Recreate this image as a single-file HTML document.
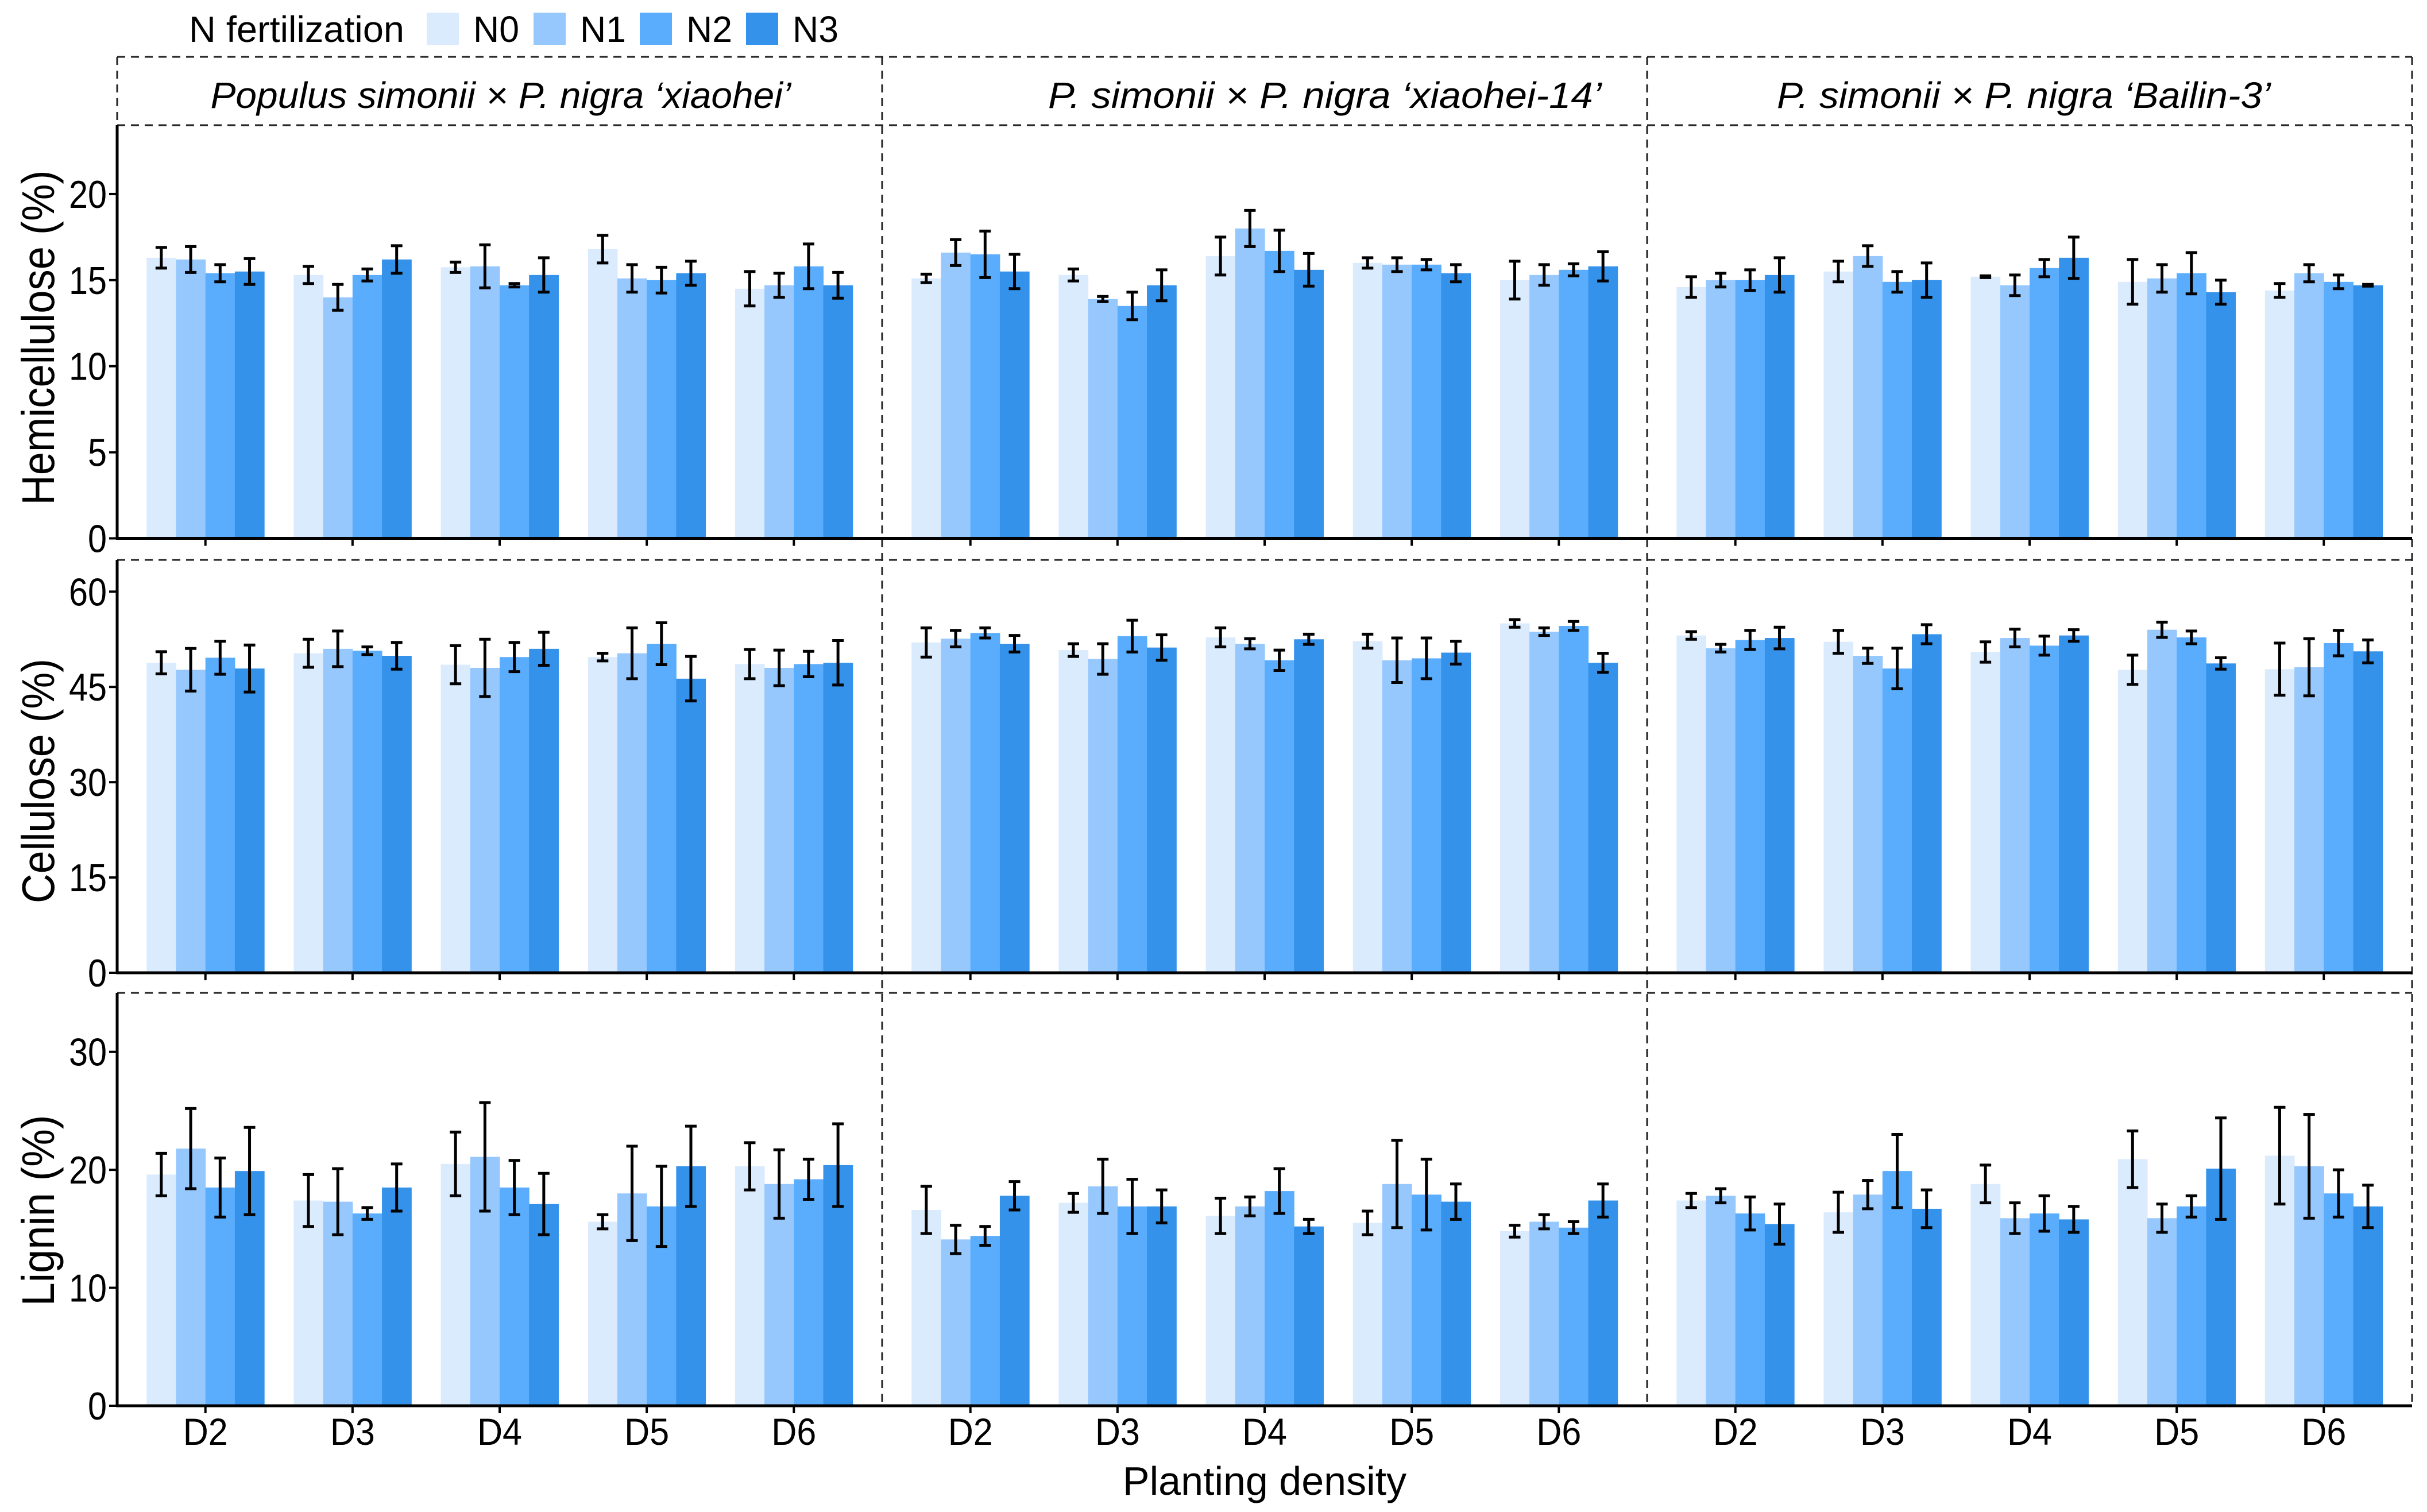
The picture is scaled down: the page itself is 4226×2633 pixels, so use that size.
<!DOCTYPE html>
<html><head><meta charset="utf-8"><style>
html,body{margin:0;padding:0;background:#fff}
svg{display:block}
text{font-family:"Liberation Sans",sans-serif;fill:#000}
</style></head><body>
<svg id="chart" xmlns="http://www.w3.org/2000/svg" width="4226" height="2633" viewBox="0 0 4226 2633"></svg>
<script>
const categories = ["D2","D3","D4","D5","D6"];
const series = ["N0","N1","N2","N3"];
const clones = ["Populus simonii \u00d7 P. nigra \u2018xiaohei\u2019","P. simonii \u00d7 P. nigra \u2018xiaohei-14\u2019","P. simonii \u00d7 P. nigra \u2018Bailin-3\u2019"];
const traits = ["Hemicellulose (%)","Cellulose (%)","Lignin  (%)"];
const yMax = [24, 65, 35];
const yTicks = [[0,5,10,15,20],[0,15,30,45,60],[0,10,20,30]];
const hemiMean = [
 [[16.3,16.2,15.4,15.5],[15.3,14.0,15.3,16.2],[15.75,15.8,14.7,15.3],[16.8,15.1,15.0,15.4],[14.5,14.7,15.8,14.7]],
 [[15.1,16.6,16.5,15.5],[15.3,13.9,13.5,14.7],[16.4,18.0,16.7,15.6],[16.0,15.9,15.9,15.4],[15.0,15.3,15.6,15.8]],
 [[14.6,15.0,15.0,15.3],[15.5,16.4,14.9,15.0],[15.2,14.7,15.7,16.3],[14.9,15.1,15.4,14.3],[14.4,15.4,14.9,14.7]]];
const hemiErr = [
 [[0.6,0.75,0.5,0.75],[0.5,0.75,0.35,0.8],[0.3,1.25,0.1,1.0],[0.8,0.8,0.75,0.7],[1.0,0.7,1.3,0.75]],
 [[0.25,0.75,1.35,1.0],[0.35,0.15,0.8,0.9],[1.1,1.05,1.2,0.95],[0.3,0.4,0.3,0.5],[1.1,0.6,0.35,0.85]],
 [[0.6,0.4,0.6,1.0],[0.6,0.6,0.6,1.0],[0.05,0.6,0.5,1.2],[1.3,0.8,1.2,0.7],[0.4,0.5,0.4,0.05]]];
const celMean = [
 [[48.8,47.7,49.6,47.9],[50.3,51.0,50.7,49.9],[48.5,48.0,49.7,51.0],[49.7,50.3,51.8,46.3],[48.6,48.0,48.6,48.8]],
 [[52.0,52.6,53.5,51.8],[50.8,49.4,53.0,51.2],[52.8,51.8,49.2,52.5],[52.2,49.2,49.5,50.4],[55.0,53.7,54.6,48.8]],
 [[53.1,51.1,52.4,52.7],[52.1,49.9,47.9,53.3],[50.5,52.7,51.5,53.1],[47.7,54.0,52.8,48.7],[47.8,48.1,51.9,50.6]]];
const celErr = [
 [[1.75,3.35,2.6,3.7],[2.2,2.8,0.6,2.1],[3.0,4.5,2.3,2.6],[0.6,4.0,3.3,3.5],[2.3,2.8,2.0,3.5]],
 [[2.3,1.3,0.8,1.3],[1.0,2.4,2.5,2.0],[1.5,0.8,1.6,0.8],[1.1,3.5,3.2,1.8],[0.6,0.6,0.7,1.5]],
 [[0.6,0.6,1.5,1.7],[1.8,1.2,3.2,1.5],[1.6,1.4,1.5,0.9],[2.3,1.2,1.0,0.9],[4.1,4.5,2.0,1.8]]];
const ligMean = [
 [[19.6,21.8,18.5,19.9],[17.4,17.3,16.3,18.5],[20.5,21.1,18.5,17.1],[15.6,18.0,16.9,20.3],[20.3,18.8,19.2,20.4]],
 [[16.6,14.1,14.4,17.8],[17.2,18.6,16.9,16.9],[16.1,16.9,18.2,15.2],[15.5,18.8,17.9,17.3],[14.8,15.6,15.1,17.4]],
 [[17.4,17.8,16.3,15.4],[16.4,17.9,19.9,16.7],[18.8,15.9,16.3,15.8],[20.9,15.9,16.9,20.1],[21.2,20.3,18.0,16.9]]];
const ligErr = [
 [[1.8,3.4,2.5,3.7],[2.2,2.8,0.5,2.0],[2.7,4.6,2.3,2.6],[0.6,4.0,3.4,3.4],[2.0,2.9,1.7,3.5]],
 [[2.0,1.2,0.8,1.2],[0.8,2.3,2.3,1.4],[1.5,0.8,1.9,0.6],[1.0,3.7,3.0,1.5],[0.5,0.6,0.5,1.4]],
 [[0.6,0.6,1.4,1.7],[1.7,1.2,3.1,1.6],[1.6,1.3,1.5,1.1],[2.4,1.2,0.9,4.3],[4.1,4.4,2.0,1.8]]];
const means = [hemiMean, celMean, ligMean];
const errs = [hemiErr, celErr, ligErr];
const colors = ["#DAEBFE","#96C8FE","#5AADFD","#3492EB"];

const NS = "http://www.w3.org/2000/svg";
const svg = document.getElementById("chart");
function mk(tag, attrs, parent, txt){
  const e = document.createElementNS(NS, tag);
  for (const k in attrs) e.setAttribute(k, attrs[k]);
  if (txt !== undefined) e.textContent = txt;
  (parent||svg).appendChild(e); return e;
}
const PX = [204,1536,2868], PW = 1332;
const rowTop = [218,975,1729], rowZero = [937.5,1694,2448];
const step = PW/(categories.length - 1 + 1.2);
function xCenter(p, i){ return PX[p] + step*(0.6 + i); }
function yScale(r, v){ return rowZero[r] - v/yMax[r]*(rowZero[r]-rowTop[r]); }
const bw = step*0.8/4;

const lt = mk("text",{x:329,y:73,"font-size":64,textLength:375,lengthAdjust:"spacingAndGlyphs"},svg,"N fertilization");


const lx = [743,929,1114,1299];
series.forEach((s,k)=>{
  const g = mk("g",{});
  
  
  mk("rect",{x:lx[k],y:22,width:56,height:56,fill:colors[k]},g);
  mk("text",{x:lx[k]+81,y:73,"font-size":64,textLength:80,lengthAdjust:"spacingAndGlyphs"},g,s);
});

const stripCx = [872,2307,3524], stripLen = [1011,964,860];
clones.forEach((c,p)=>{
  const t = mk("text",{x:stripCx[p],y:188,"font-size":64,"font-style":"italic","text-anchor":"middle",textLength:stripLen[p],lengthAdjust:"spacingAndGlyphs"},svg,c);
  
  
});

for (let r=0;r<3;r++){
  for (let p=0;p<3;p++){
    const g = mk("g",{});
    
    
    categories.forEach((cat,i)=>{
      series.forEach((s,k)=>{
        const v = means[r][p][i][k], e = errs[r][p][i][k];
        const x0 = xCenter(p,i) - 2*bw + k*bw;
        const y = yScale(r,v);
        const b = mk("rect",{x:x0,y:y,width:bw+0.5,height:rowZero[r]-y,fill:colors[k]},g);
        
        
        const cx = x0 + bw/2, yt = yScale(r,v+e), yb = yScale(r,v-e);
        const eb = mk("path",{d:`M${cx-10},${yt}H${cx+10}M${cx},${yt}V${yb}M${cx-10},${yb}H${cx+10}`,stroke:"#000","stroke-width":5,fill:"none"},g);
        
        
      });
    });
  }
}

const dash = {stroke:"#222","stroke-width":3,"stroke-dasharray":"14 10",fill:"none"};
[99,218,975,1729].forEach(y=>{
  const l = mk("line",Object.assign({x1:204,x2:4200,y1:y,y2:y},dash));
  
  
});
[1536,2868,4200].forEach(x=>{
  const l = mk("line",Object.assign({x1:x,x2:x,y1:99,y2:2448},dash));
  
  
});
const sl = mk("line",Object.assign({x1:204,x2:204,y1:99,y2:218},dash));



const titleCy = [588,1360,2108], titleLen = [583,426,333];
for (let r=0;r<3;r++){
  const ax = mk("g",{});
  
  
  mk("line",{x1:204,x2:204,y1:rowTop[r],y2:rowZero[r]+2,stroke:"#000","stroke-width":5},ax);
  yTicks[r].forEach(t=>{
    const y = yScale(r,t);
    mk("line",{x1:190,x2:204,y1:y,y2:y,stroke:"#000","stroke-width":4},ax);
    mk("text",{x:186,y:y+24,"font-size":68,"text-anchor":"end",textLength:String(t).length*33,lengthAdjust:"spacingAndGlyphs"},ax,String(t));
  });
  const xa = mk("line",{x1:202,x2:4200,y1:rowZero[r],y2:rowZero[r],stroke:"#000","stroke-width":5});
  
  
  for (let p=0;p<3;p++) categories.forEach((cat,i)=>{
    const x = xCenter(p,i);
    mk("line",{x1:x,x2:x,y1:rowZero[r],y2:rowZero[r]+13,stroke:"#000","stroke-width":4});
    if (r===2){
      const tl = mk("text",{x:x,y:2516,"font-size":66,"text-anchor":"middle",textLength:78,lengthAdjust:"spacingAndGlyphs"},svg,cat);
      
      
    }
  });
  const yt = mk("text",{x:0,y:0,"font-size":80,"text-anchor":"middle",transform:`translate(94,${titleCy[r]}) rotate(-90)`,textLength:titleLen[r],lengthAdjust:"spacingAndGlyphs"},svg,traits[r]);
  
  
}
const xt = mk("text",{x:2202,y:2603,"font-size":70,"text-anchor":"middle"},svg,"Planting density");


</script>
</body></html>
